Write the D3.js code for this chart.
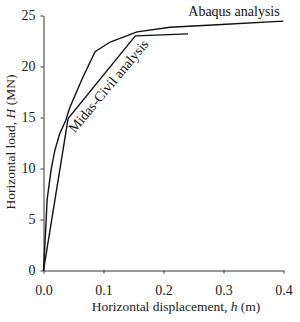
<!DOCTYPE html>
<html><head><meta charset="utf-8">
<script src="https://cdn.jsdelivr.net/npm/d3@7"></script>
<style>body{margin:0;background:#fff}svg{display:block}</style>
</head><body>
<script>
const abaqusH = [0, 0.0033, 0.006, 0.0095, 0.0133, 0.019, 0.027, 0.037, 0.044, 0.066, 0.086, 0.111, 0.156, 0.211, 0.289, 0.4];
const abaqusLoad = [0, 3.6, 6.9, 8.5, 10.1, 11.8, 13.4, 14.7, 16.0, 19.0, 21.45, 22.4, 23.4, 23.85, 24.1, 24.45];
const midasH = [0, 0.041, 0.153, 0.241];
const midasLoad = [0, 14.9, 23.0, 23.2];
const xTicks = [0, 0.1, 0.2, 0.3, 0.4];
const yTicks = [0, 5, 10, 15, 20, 25];

const W = 300, H = 322;
const font = "'Liberation Serif','Times New Roman',serif";
const svg = d3.select("body").append("svg").attr("width", W).attr("height", H)
  .style("font-family", font);

const x = d3.scaleLinear().domain([0, 0.4]).range([43.5, 283.5]);
const y = d3.scaleLinear().domain([0, 25]).range([270.5, 15.5]);

const gx = svg.append("g").attr("transform", "translate(0,270.5)")
  .call(d3.axisBottom(x).tickValues(xTicks).tickFormat(d3.format(".1f")).tickSizeInner(3).tickSizeOuter(0).tickPadding(12));
const gy = svg.append("g").attr("transform", "translate(43.5,0)")
  .call(d3.axisLeft(y).tickValues(yTicks).tickFormat(d3.format("d")).tickSizeInner(3).tickSizeOuter(0).tickPadding(5));
[gx, gy].forEach(g => {
  g.selectAll("path,line").attr("stroke", "#333").attr("stroke-width", 1);
  g.selectAll("text").attr("fill", "#222").style("font-size", "14px").style("font-family", font);
});

const line = d3.line().x(d => x(d[0])).y(d => y(d[1]));
svg.append("path").datum(abaqusH.map((h, i) => [h, abaqusLoad[i]]))
  .attr("d", line).attr("fill", "none").attr("stroke", "#111").attr("stroke-width", 1.4);
svg.append("path").datum(midasH.map((h, i) => [h, midasLoad[i]]))
  .attr("d", line).attr("fill", "none").attr("stroke", "#111").attr("stroke-width", 1.4);

svg.append("text").attr("x", 234).attr("y", 16).attr("text-anchor", "middle")
  .style("font-size", "14px").attr("fill", "#111").text("Abaqus analysis");
svg.append("text").attr("transform", "translate(112,89) rotate(-50)").attr("text-anchor", "middle")
  .style("font-size", "14px").attr("fill", "#111").text("Midas-Civil analysis");

svg.append("text").attr("x", 176).attr("y", 311).attr("text-anchor", "middle")
  .style("font-size", "13.5px").attr("fill", "#222")
  .html("Horizontal displacement, <tspan font-style='italic'>h</tspan> (m)");
svg.append("text").attr("transform", "translate(15,142) rotate(-90)").attr("text-anchor", "middle")
  .style("font-size", "13.5px").attr("fill", "#222")
  .html("Horizontal load, <tspan font-style='italic'>H</tspan> (MN)");
</script>
</body></html>
